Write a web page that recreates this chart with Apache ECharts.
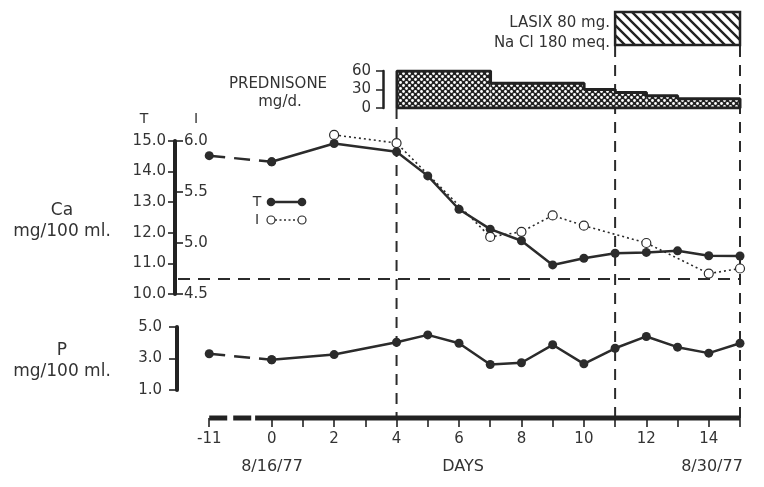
<!DOCTYPE html>
<html>
<head>
<meta charset="utf-8">
<script src="https://cdn.jsdelivr.net/npm/echarts@6/dist/echarts.min.js"></script>
<style>
  html, body { margin: 0; padding: 0; background: #fff; }
  #chart { width: 764px; height: 487px; }
</style>
</head>
<body>
<div id="chart"></div>
<script>
// day -11 sits two day-widths left of day 0 (broken axis), so it is stored as -2
var caDays = [-2, 0, 2, 4, 5, 6, 7, 8, 9, 10, 11, 12, 13, 14, 15];
var caTotal = [14.52, 14.32, 14.92, 14.65, 13.86, 12.77, 12.12, 11.74, 10.95, 11.17, 11.33, 11.36, 11.41, 11.25, 11.24];
var ionDays = [2, 4, 7, 8, 9, 10, 12, 14, 15];
var caIonized = [6.06, 5.98, 5.06, 5.11, 5.27, 5.17, 5.0, 4.70, 4.75];
var pDays = [-2, 0, 2, 4, 5, 6, 7, 8, 9, 10, 11, 12, 13, 14, 15];
var phosphorus = [3.30, 2.92, 3.25, 4.03, 4.50, 3.97, 2.62, 2.73, 3.87, 2.66, 3.65, 4.40, 3.72, 3.34, 3.97];
var predStart = [4, 7, 10, 11, 12, 13];
var predEnd = [7, 10, 11, 12, 13, 15];
var predDose = [60, 40, 30, 25, 20, 15];
var lasixDays = [11, 15];
var markDays = [4, 11, 15];
var caNormal = 10.5;
var dayTicks = [-2, 0, 1, 2, 3, 4, 5, 6, 7, 8, 9, 10, 11, 12, 13, 14, 15];
var dayLabels = [-2, 0, 2, 4, 6, 8, 10, 12, 14];

var INK = '#2b2b2b';
var FONT = 'DejaVu Sans';
var chart = echarts.init(document.getElementById('chart'));

function dotPattern() {
    var c = document.createElement('canvas');
    c.width = 6; c.height = 6;
    var g = c.getContext('2d');
    g.fillStyle = '#222';
    g.fillRect(0, 0, 6, 6);
    g.fillStyle = '#fff';
    g.beginPath(); g.arc(1.5, 1.5, 1.4, 0, Math.PI * 2); g.fill();
    g.beginPath(); g.arc(4.5, 4.5, 1.4, 0, Math.PI * 2); g.fill();
    return c;
}

function hatchPattern() {
    var c = document.createElement('canvas');
    c.width = 10; c.height = 10;
    var g = c.getContext('2d');
    g.fillStyle = '#fff';
    g.fillRect(0, 0, 10, 10);
    g.strokeStyle = '#222';
    g.lineWidth = 2.4;
    g.beginPath();
    g.moveTo(-1, -1); g.lineTo(11, 11);
    g.moveTo(-1, 9); g.lineTo(1, 11);
    g.moveTo(9, -1); g.lineTo(11, 1);
    g.stroke();
    return c;
}

var dots = dotPattern();
var hatch = hatchPattern();

// outline of the prednisone steps
var predOutline = [[predStart[0], 0]];
for (var i = 0; i < predDose.length; i++) {
    predOutline.push([predStart[i], predDose[i]], [predEnd[i], predDose[i]]);
}
predOutline.push([predEnd[predEnd.length - 1], 0], [predStart[0], 0]);

function pairs(xs, ys) {
    return xs.map(function (x, k) { return [x, ys[k]]; });
}

// vertical dashed guides (overlay y axis is in pixels)
var guideTop = {4: 108, 11: 46, 15: 46};
var guideBottom = 418;

var hiddenX = function (grid, min, max) {
    return {type: 'value', gridIndex: grid, min: min, max: max, show: false};
};
var hiddenY = function (grid, min, max, inv) {
    return {type: 'value', gridIndex: grid, min: min, max: max, show: false, inverse: !!inv};
};

var series = [];

series.push({
    type: 'custom', xAxisIndex: 0, yAxisIndex: 0,
    data: [[lasixDays[0], lasixDays[1]]],
    encode: {x: [0, 1]},
    renderItem: function (params, api) {
        var a = api.coord([api.value(0), 1]);
        var b = api.coord([api.value(1), 0]);
        return {
            type: 'rect',
            shape: {x: a[0], y: a[1], width: b[0] - a[0], height: b[1] - a[1]},
            style: {fill: {image: hatch, repeat: 'repeat'}, stroke: '#222', lineWidth: 2.5}
        };
    }
});

series.push({
    type: 'custom', xAxisIndex: 1, yAxisIndex: 1,
    data: predStart.map(function (s, k) { return [s, predEnd[k], predDose[k]]; }),
    encode: {x: [0, 1], y: 2},
    renderItem: function (params, api) {
        var a = api.coord([api.value(0), api.value(2)]);
        var b = api.coord([api.value(1), 0]);
        return {
            type: 'rect',
            shape: {x: a[0], y: a[1], width: b[0] - a[0], height: b[1] - a[1]},
            style: {fill: {image: dots, repeat: 'repeat'}}
        };
    }
});

series.push({
    type: 'line', xAxisIndex: 1, yAxisIndex: 1,
    data: predOutline, symbol: 'none',
    lineStyle: {color: '#222', width: 3}
});

// Ca total: dashed across the axis break, solid after day 0
series.push({
    type: 'line', xAxisIndex: 2, yAxisIndex: 2, clip: false,
    data: pairs(caDays, caTotal).slice(0, 2),
    symbol: 'circle', symbolSize: 9,
    itemStyle: {color: INK},
    lineStyle: {color: INK, width: 2.5, type: [16, 9]}
});
series.push({
    type: 'line', xAxisIndex: 2, yAxisIndex: 2, clip: false,
    data: pairs(caDays, caTotal).slice(1),
    symbol: 'circle', symbolSize: 9,
    itemStyle: {color: INK},
    lineStyle: {color: INK, width: 2.5},
    markLine: {
        silent: true, symbol: 'none', label: {show: false},
        lineStyle: {color: INK, width: 2, type: [12, 8]},
        data: [{yAxis: caNormal}]
    }
});

series.push({
    type: 'line', xAxisIndex: 2, yAxisIndex: 3, clip: false,
    data: pairs(ionDays, caIonized),
    symbol: 'circle', symbolSize: 9,
    itemStyle: {color: '#fff', borderColor: INK, borderWidth: 1.2},
    lineStyle: {color: INK, width: 1.6, type: [2, 3]}
});

series.push({
    type: 'line', xAxisIndex: 3, yAxisIndex: 4,
    data: pairs(pDays, phosphorus).slice(0, 2),
    symbol: 'circle', symbolSize: 9,
    itemStyle: {color: INK},
    lineStyle: {color: INK, width: 2.5, type: [16, 9]}
});
series.push({
    type: 'line', xAxisIndex: 3, yAxisIndex: 4,
    data: pairs(pDays, phosphorus).slice(1),
    symbol: 'circle', symbolSize: 9,
    itemStyle: {color: INK},
    lineStyle: {color: INK, width: 2.5}
});

// day axis bar, broken (dashed) between -11 and 0
series.push({
    type: 'line', xAxisIndex: 4, yAxisIndex: 5, clip: false,
    data: [[-2, 0], [-0.53, 0]], symbol: 'none',
    lineStyle: {color: '#222', width: 5, type: [18, 6], cap: 'butt'}
});
series.push({
    type: 'line', xAxisIndex: 4, yAxisIndex: 5, clip: false,
    data: [[-0.53, 0], [15, 0]], symbol: 'none',
    lineStyle: {color: '#222', width: 5}
});

markDays.forEach(function (d) {
    series.push({
        type: 'line', xAxisIndex: 5, yAxisIndex: 6, z: 1, clip: false,
        data: [[d, guideTop[d]], [d, guideBottom]], symbol: 'none',
        lineStyle: {color: INK, width: 2, type: [11, 8]}
    });
});

function txt(x, y, s, size, align) {
    return {
        type: 'text', x: x, y: y,
        style: {text: s, fill: '#333', font: (size || 14) + 'px "' + FONT + '"',
                align: align || 'center', verticalAlign: 'middle'}
    };
}

var option = {
    animation: false,
    backgroundColor: '#fff',
    textStyle: {fontFamily: FONT},
    grid: [
        {left: 178, right: 24, top: 12, height: 33},
        {left: 397, right: 24, top: 71, height: 37},
        {left: 178, right: 24, top: 141, height: 153},
        {left: 178, right: 24, top: 327, height: 63},
        {left: 178, right: 24, top: 417, height: 1},
        {left: 178, right: 24, top: 0, bottom: 0}
    ],
    xAxis: [
        hiddenX(0, -3, 15),
        hiddenX(1, 4, 15),
        hiddenX(2, -3, 15),
        hiddenX(3, -3, 15),
        {
            type: 'value', gridIndex: 4, min: -3, max: 15,
            axisLine: {show: false},
            splitLine: {show: false},
            axisTick: {show: true, customValues: dayTicks, length: 9, lineStyle: {color: '#222', width: 1.6}},
            axisLabel: {
                customValues: dayLabels, margin: 14, color: '#333', fontSize: 15, fontFamily: FONT,
                formatter: function (v) { return v === -2 ? '-11' : String(v); }
            }
        },
        hiddenX(5, -3, 15)
    ],
    yAxis: [
        hiddenY(0, 0, 1),
        {
            type: 'value', gridIndex: 1, min: 0, max: 60, interval: 30, offset: 14, position: 'left',
            splitLine: {show: false},
            axisLine: {show: true, onZero: false, lineStyle: {color: '#222', width: 2.5}},
            axisTick: {show: true, length: 7, lineStyle: {color: '#222', width: 1.5}},
            axisLabel: {margin: 12, color: '#333', fontSize: 15, fontFamily: FONT}
        },
        {
            type: 'value', gridIndex: 2, min: 10, max: 15, interval: 1, offset: 3, position: 'left',
            splitLine: {show: false},
            axisLine: {show: true, onZero: false, lineStyle: {color: '#222', width: 4}},
            axisTick: {show: true, length: 7, lineStyle: {color: '#222', width: 1.6}},
            axisLabel: {margin: 9, color: '#333', fontSize: 15, fontFamily: FONT,
                        formatter: function (v) { return v.toFixed(1); }}
        },
        {
            type: 'value', gridIndex: 2, min: 4.5, max: 6.0, interval: 0.5, offset: 3, position: 'left',
            splitLine: {show: false},
            axisLine: {show: false, onZero: false},
            axisTick: {show: true, inside: true, length: 8, lineStyle: {color: '#222', width: 1.6}},
            axisLabel: {inside: true, margin: 9, color: '#333', fontSize: 15, fontFamily: FONT,
                        formatter: function (v) { return v.toFixed(1); }}
        },
        {
            type: 'value', gridIndex: 3, min: 1, max: 5, interval: 2, offset: 1, position: 'left',
            splitLine: {show: false},
            axisLine: {show: true, onZero: false, lineStyle: {color: '#222', width: 4}},
            axisTick: {show: true, length: 8, lineStyle: {color: '#222', width: 1.6}},
            axisLabel: {margin: 15, color: '#333', fontSize: 15, fontFamily: FONT,
                        formatter: function (v) { return v.toFixed(1); }}
        },
        hiddenY(4, 0, 1),
        hiddenY(5, 0, 487, true)
    ],
    graphic: [
        txt(610, 23, 'LASIX 80 mg.', 15, 'right'),
        txt(610, 43, 'Na Cl 180 meq.', 15, 'right'),
        txt(278, 84, 'PREDNISONE', 15),
        txt(280, 102, 'mg/d.', 15),
        txt(144, 119, 'T', 14),
        txt(196, 119, 'I', 14),
        txt(62, 211, 'Ca', 17),
        txt(62, 232, 'mg/100 ml.', 17),
        txt(62, 351, 'P', 17),
        txt(62, 372, 'mg/100 ml.', 17),
        txt(272, 467, '8/16/77', 16),
        txt(463, 467, 'DAYS', 16),
        txt(712, 467, '8/30/77', 16),
        // legend
        txt(257, 202, 'T', 14),
        {type: 'line', shape: {x1: 271, y1: 202, x2: 302, y2: 202}, style: {stroke: INK, lineWidth: 2.5}},
        {type: 'circle', shape: {cx: 271, cy: 202, r: 4.3}, style: {fill: INK}},
        {type: 'circle', shape: {cx: 302, cy: 202, r: 4.3}, style: {fill: INK}},
        txt(257, 220, 'I', 14),
        {type: 'line', shape: {x1: 275, y1: 220, x2: 298, y2: 220}, style: {stroke: INK, lineWidth: 1.6, lineDash: [2, 2.5]}},
        {type: 'circle', shape: {cx: 271, cy: 220, r: 4}, style: {fill: '#fff', stroke: INK, lineWidth: 1.2}},
        {type: 'circle', shape: {cx: 302, cy: 220, r: 4}, style: {fill: '#fff', stroke: INK, lineWidth: 1.2}}
    ],
    series: series
};

chart.setOption(option);
</script>
</body>
</html>
